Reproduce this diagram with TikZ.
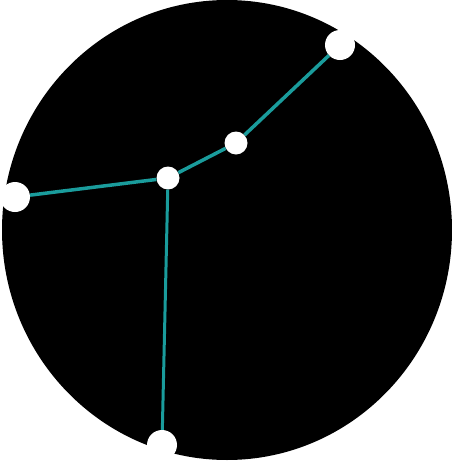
\documentclass[tikz,border=0pt]{standalone}
\usetikzlibrary{arrows.meta}
\definecolor{myTeal}{HTML}{1A9C9C}

\begin{document}
\begin{tikzpicture}[x=1pt,y=-1pt]
	\tikzset{bigDot/.style = {circle, fill=white, inner sep=0pt, minimum size=30pt}}
	\tikzset{smallDot/.style = {circle, fill=white, inner sep=0pt, minimum size=23pt}}
	\tikzset{myEdge/.style = {draw=myTeal, line width=3.5pt}}
	\useasboundingbox (0,0) rectangle (452,461);
	
	% Hintergrund
	\fill[black] (227,230) ellipse [x radius=225, y radius=230];
	
	% Knoten
	\node[bigDot] (oben) at (340,45) {};
	\node[smallDot] (mitte) at (236,143) {};
	\node[smallDot] (zentrum) at (168,178) {};
	\node[bigDot] (links) at (15,197) {};
	\node[bigDot] (unten) at (162,445) {};
	
	% Kanten
	\path[myEdge] (oben) -- (mitte);
	\path[myEdge] (mitte) -- (zentrum);
	\path[myEdge] (zentrum) -- (links);
	\path[myEdge, line width=3pt] (zentrum) -- (unten);
	
\end{tikzpicture}
\end{document}
